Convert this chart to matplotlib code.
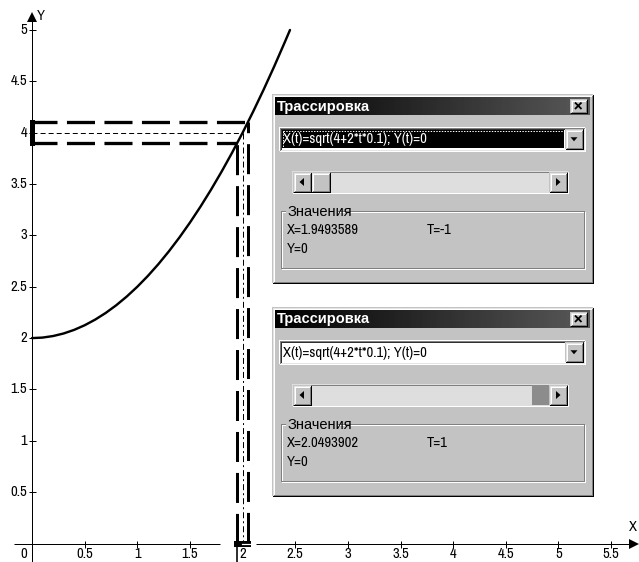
import numpy as np
import matplotlib
matplotlib.use("Agg")
import matplotlib.pyplot as plt
from matplotlib.patches import Rectangle, Polygon
from matplotlib import font_manager as fm

plt.rcParams["lines.scale_dashes"] = False

# ---- data -------------------------------------------------------------
curve_x = [0.0, 0.1, 0.2, 0.3, 0.4, 0.5, 0.6, 0.7, 0.8, 0.9, 1.0, 1.1, 1.2,
           1.3, 1.4, 1.5, 1.6, 1.7, 1.8, 1.9, 2.0, 2.1, 2.2, 2.3, 2.4, 2.45]
curve_y = [2.0, 2.005, 2.02, 2.045, 2.08, 2.125, 2.18, 2.245, 2.32, 2.405,
           2.5, 2.605, 2.72, 2.845, 2.98, 3.125, 3.28, 3.445, 3.62, 3.805,
           4.0, 4.205, 4.42, 4.645, 4.88, 5.0]

x_ticks = [0.5, 1.0, 1.5, 2.0, 2.5, 3.0, 3.5, 4.0, 4.5, 5.0, 5.5]
x_tick_labels = ["0.5", "1", "1.5", "2", "2.5", "3", "3.5", "4", "4.5", "5", "5.5"]
y_ticks = [0.5, 1.0, 1.5, 2.0, 2.5, 3.0, 3.5, 4.0, 4.5, 5.0]
y_tick_labels = ["0.5", "1", "1.5", "2", "2.5", "3", "3.5", "4", "4.5", "5"]

trace_t = [-1, 1]
trace_x = [1.9493589, 2.0493902]     # X(t) at both slider ends
trace_y = [3.9, 4.1]                 # curve value at those X
mid_x, mid_y = 2.0, 4.0
formula = "X(t)=sqrt(4+2*t*0.1); Y(t)=0"
dialog_title = "Трассировка"
group_title = "Значения"

# ---- fonts ------------------------------------------------------------
_names = {f.name for f in fm.fontManager.ttflist}
if "Archivo Narrow" in _names:
    UI_FAMILY, UI_SIZE = ["Archivo Narrow", "Liberation Sans"], 10.5
else:
    UI_FAMILY, UI_SIZE = ["Liberation Sans"], 9.0

PX = 0.72  # points per pixel at 100 dpi

fig = plt.figure(figsize=(6.39, 5.62), dpi=100)
fig.patch.set_facecolor("white")

# ---- plot area --------------------------------------------------------
ax = fig.add_axes([0, 0, 1, 1])
ax.set_xlim(-0.3039, 5.7645)
ax.set_ylim(-0.1801, 5.2921)
ax.axis("off")

axis_kw = dict(color="black", lw=1.0 * PX, solid_capstyle="butt", zorder=3)
# x axis (interrupted around the traced interval)
ax.plot([-0.171, 1.79], [0, 0], **axis_kw)
ax.plot([2.13, 5.70], [0, 0], **axis_kw)
# y axis
ax.plot([0, 0], [-0.19, 5.09], **axis_kw)
# arrow heads
ax.plot([5.717], [0], marker=">", ms=10 * PX, color="black", mew=0, zorder=3, clip_on=False)
ax.plot([0], [5.125], marker="^", ms=10 * PX, color="black", mew=0, zorder=3)

# ticks
ax.plot([v for v in x_ticks if v != 2.0], [0] * (len(x_ticks) - 1), ls="none",
        marker="|", ms=7 * PX, mew=1 * PX, color="black", zorder=3)
ax.plot([0] * len(y_ticks), y_ticks, ls="none", marker="_", ms=7 * PX,
        mew=1 * PX, color="black", zorder=3)

lab_kw = dict(family=UI_FAMILY, fontsize=UI_SIZE, color="black",
              textcoords="offset pixels")
for v, s in zip(x_ticks, x_tick_labels):
    ax.annotate(s, (v, 0), xytext=(0, -3), ha="center", va="top", **lab_kw)
ax.annotate("0", (0, 0), xytext=(-8, -3), ha="center", va="top", **lab_kw)
for v, s in zip(y_ticks, y_tick_labels):
    ax.annotate(s, (0, v), xytext=(-5, 0), ha="right", va="center", **lab_kw)
ax.annotate("X", (5.70, 0), xytext=(1, 17), ha="center", va="center", **lab_kw)
ax.annotate("Y", (0, 5.125), xytext=(9, 1), ha="center", va="center", **lab_kw)

# curve
ax.plot(curve_x, curve_y, color="black", lw=2.4 * PX, zorder=4,
        solid_capstyle="round", solid_joinstyle="round")

# trace guides: thick dashed bounds, thin dashed centre
thick_h = dict(color="black", lw=3.3 * PX, ls=(2.2, (20.2, 6.8)), zorder=3)
ax.plot([0, trace_x[1]], [trace_y[1]] * 2, **thick_h)
ax.plot([0, trace_x[0]], [trace_y[0]] * 2, **thick_h)
ax.plot([0, mid_x], [mid_y] * 2, color="black", lw=1.0 * PX,
        ls=(0, (3.6, 2.2)), zorder=3)

thick_v_hi = dict(color="black", lw=3.0 * PX, ls=(13.9, (21.6, 7.9)), zorder=3)
thick_v_lo = dict(color="black", lw=3.0 * PX, ls=(28.3, (21.6, 7.9)), zorder=3)
ax.plot([trace_x[1]] * 2, [trace_y[1], 0], **thick_v_hi)
ax.plot([trace_x[0]] * 2, [trace_y[0], 0], **thick_v_lo)
ax.plot([mid_x] * 2, [mid_y, 0], color="black", lw=1.0 * PX,
        ls=(0, (4.3, 2.2, 1.4, 2.2)), zorder=3)
ax.plot([trace_x[0]] * 2, [0, -0.19], color="black", lw=1.6 * PX, zorder=3)

# interval markers on the axes
ax.plot([0, 0], trace_y, color="black", lw=5 * PX, solid_capstyle="projecting", zorder=5)
ax.plot(trace_x, [0, 0], color="black", lw=6 * PX, solid_capstyle="projecting", zorder=5)
ax.plot([1.99, 2.07], [0, 0], color="white", lw=1.2 * PX, zorder=6)

# ---- dialog windows (pixel space overlay) ----------------------------
ui = fig.add_axes([0, 0, 1, 1])
ui.set_xlim(0, 639)
ui.set_ylim(562, 0)
ui.axis("off")
ui.patch.set_visible(False)

GRAY = "#c3c3c3"
LW1 = 1.0 * PX


def rect(x, y, w, h, fc, z=2):
    ui.add_patch(Rectangle((x, y), w, h, facecolor=fc, edgecolor="none", zorder=z))


def edge(x0, y0, x1, y1, c, z=3):
    ui.plot([x0, x1], [y0, y1], color=c, lw=LW1, solid_capstyle="projecting", zorder=z)


def frame(x, y, w, h, tl, br, z=3):
    edge(x + 0.5, y + 0.5, x + w - 0.5, y + 0.5, tl, z)
    edge(x + 0.5, y + 0.5, x + 0.5, y + h - 0.5, tl, z)
    edge(x + 0.5, y + h - 0.5, x + w - 0.5, y + h - 0.5, br, z)
    edge(x + w - 0.5, y + 0.5, x + w - 0.5, y + h - 0.5, br, z)


def raised(x, y, w, h, z=3):
    frame(x, y, w, h, "#e4e4e4", "#000000", z)
    frame(x + 1, y + 1, w - 2, h - 2, "#ffffff", "#808080", z)


def sunken(x, y, w, h, z=3):
    frame(x, y, w, h, "#808080", "#ffffff", z)
    frame(x + 1, y + 1, w - 2, h - 2, "#303030", "#e4e4e4", z)


def tri(cx, cy, direction, size=4.0, z=4):
    s = size
    if direction == "down":
        pts = [(cx - s, cy - s / 2), (cx + s, cy - s / 2), (cx, cy + s / 2 + 0.5)]
    elif direction == "left":
        pts = [(cx + s / 2, cy - s), (cx + s / 2, cy + s), (cx - s / 2 - 0.5, cy)]
    else:
        pts = [(cx - s / 2, cy - s), (cx - s / 2, cy + s), (cx + s / 2 + 0.5, cy)]
    ui.add_patch(Polygon(pts, closed=True, facecolor="black", edgecolor="none", zorder=z))


def ui_text(x, y, s, **kw):
    opts = dict(family=UI_FAMILY, fontsize=UI_SIZE, color="black", va="center",
                ha="left", zorder=6)
    opts.update(kw)
    ui.text(x, y, s, **opts)


def dialog(top, t_val, x_val, selected, thumb_right):
    L, W, H = 272, 321, 189
    rect(L, top, W, H, GRAY, z=1)
    raised(L, top, W, H)

    # title bar
    tx, ty, tw, th = L + 3, top + 3, W - 6, 18
    grad = np.linspace(0.0, 0.35, 256)[None, :]
    ui.imshow(grad, extent=(tx, tx + tw, ty + th, ty), cmap="gray", vmin=0,
              vmax=1, aspect="auto", interpolation="bilinear", zorder=2)
    ui.text(L + 5, top + 12.5, dialog_title, family="Liberation Sans",
            fontweight="bold", fontsize=10.5, color="white", va="center",
            ha="left", zorder=6)

    # close button
    bx, by, bw, bh = L + 298, top + 5, 17, 14
    rect(bx, by, bw, bh, GRAY, z=3)
    raised(bx, by, bw, bh, z=4)
    for (a, b), (c, d) in [((bx + 5, by + 3.5), (bx + 11.5, by + 10)),
                           ((bx + 5, by + 10), (bx + 11.5, by + 3.5))]:
        ui.plot([a, c], [b, d], color="black", lw=1.8 * PX, zorder=5,
                solid_capstyle="butt")

    # combo box
    cx, cy, cw, ch = L + 7, top + 33, 306, 24
    rect(cx, cy, cw, ch, "white", z=2)
    sunken(cx, cy, cw, ch)
    if selected:
        rect(cx + 3, cy + 3, 282, 18, "black", z=3)
        ui.add_patch(Rectangle((cx + 3.5, cy + 3.5), 281, 17, facecolor="none",
                               edgecolor="white", lw=LW1, ls=(0, (1, 1)), zorder=4))
        ui_text(cx + 4, cy + 12.5, formula, color="white")
    else:
        ui_text(cx + 4, cy + 12.5, formula)
    db_x, db_y, db_w, db_h = L + 293, top + 35, 18, 20
    rect(db_x, db_y, db_w, db_h, GRAY, z=3)
    raised(db_x, db_y, db_w, db_h, z=4)
    tri(db_x + 9, db_y + 10, "down", 3.5, z=5)

    # scroll bar
    sx, sy, sw, sh = L + 20, top + 77, 276, 22
    rect(sx, sy, sw, sh, "#dedede", z=2)
    frame(sx, sy, sw, sh, "#808080", "#ffffff")
    bwid = 18
    for bx0, d in [(sx + 1, "left"), (sx + sw - 1 - bwid, "right")]:
        rect(bx0, sy + 1, bwid, sh - 2, GRAY, z=3)
        raised(bx0, sy + 1, bwid, sh - 2, z=4)
        tri(bx0 + bwid / 2, sy + sh / 2, d, 4.0, z=5)
    if thumb_right:
        rect(sx + sw - 1 - bwid - 17, sy + 1, 17, sh - 2, "#8c8c8c", z=3)
    else:
        rect(sx + 1 + bwid, sy + 1, 19, sh - 2, GRAY, z=3)
        raised(sx + 1 + bwid, sy + 1, 19, sh - 2, z=4)

    # value group
    gx, gy, gw, gh = L + 8, top + 116, 304, 58
    frame(gx + 1, gy + 1, gw, gh, "#ffffff", "#ffffff")
    frame(gx, gy, gw, gh, "#808080", "#808080")
    rect(gx + 6, gy - 2, 52, 6, GRAY, z=4)
    ui_text(gx + 7, gy + 2, group_title)
    ui_text(L + 15, top + 136, f"X={x_val:.7f}")
    ui_text(L + 155, top + 136, f"T={t_val}")
    ui_text(L + 15, top + 155, "Y=0")


dialog(94, trace_t[0], trace_x[0], selected=True, thumb_right=False)
dialog(307, trace_t[1], trace_x[1], selected=False, thumb_right=True)

ui.set_xlim(0, 639)
ui.set_ylim(562, 0)

fig.savefig("out.png", dpi=100, facecolor="white")
